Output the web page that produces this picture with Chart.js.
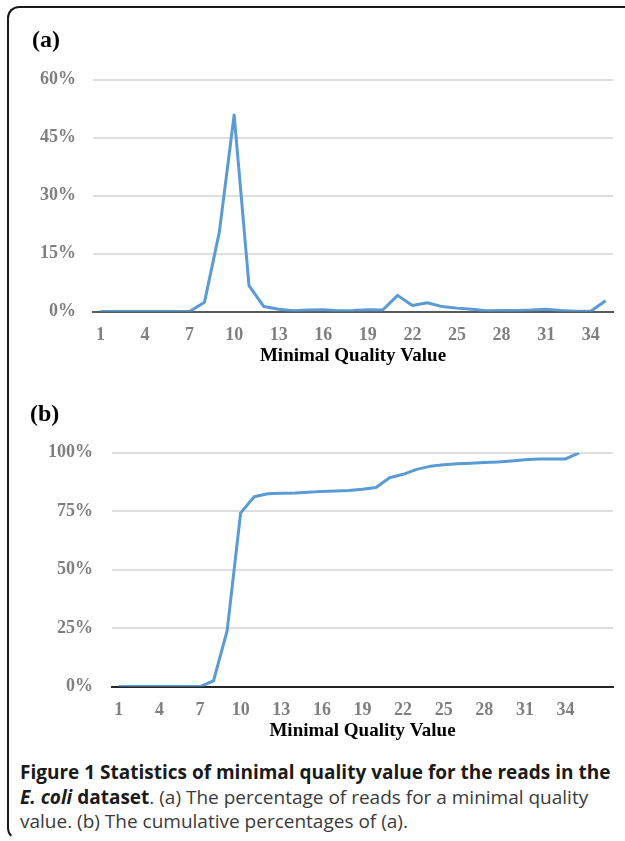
<!DOCTYPE html>
<html lang="en">
<head>
  <meta charset="UTF-8" />
  <title>Minimal quality value</title>
  <script src="https://cdn.jsdelivr.net/npm/chart.js"></script>
  <style>
    body, html { margin: 0; padding: 0; background: #fff; }
    #page { position: relative; width: 625px; height: 841px; overflow: hidden; }
    #frame { position: absolute; left: 7px; top: 6px; width: 700px; height: 830px;
             border-left: 2px solid #1a1a1a; border-top: 2px solid #1a1a1a;
             border-bottom: 2px solid transparent;
             border-top-left-radius: 12px; border-bottom-left-radius: 12px; }
    #wrapA { position: absolute; left: 0; top: 0; width: 625px; height: 380px; }
    #wrapB { position: absolute; left: 0; top: 380px; width: 625px; height: 370px; }
    #caption { position: absolute; left: 20px; top: 760px; width: 605px; white-space: nowrap;
               font-family: "Open Sans", sans-serif; font-size: 19px; line-height: 24.5px; color: #3a3a3a; }
    #caption b { color: #1a1a1a; }
  </style>
</head>
<body>
  <div id="page">
    <div id="frame"></div>
    <div id="wrapA"><canvas id="chartA"></canvas></div>
    <div id="wrapB"><canvas id="chartB"></canvas></div>
    <div id="caption"><b>Figure 1 Statistics of minimal quality value for the reads in the</b><br><b><i>E. coli</i> dataset</b>. (a) The percentage of reads for a minimal quality<br>value. (b) The cumulative percentages of (a).</div>
  </div>

  <script>
    // x categories: minimal quality value
    const qualityA = ['1','2','3','4','5','6','7','8','9','10','11','12','13','14','15','16','17','18',
      '19','20','21','22','23','24','25','26','27','28','29','30','31','32','33','34','35'];
    const qualityB = qualityA.concat(['', '']);

    // (a) percentage of reads per minimal quality value
    const percentA = [0, 0, 0, 0, 0, 0, 0, 2.4, 20.5, 50.9, 6.7, 1.3, 0.6, 0.2, 0.4, 0.5, 0.2, 0.3,
      0.5, 0.4, 4.2, 1.6, 2.3, 1.3, 0.9, 0.6, 0.2, 0.3, 0.3, 0.4, 0.6, 0.3, 0.1, 0.1, 2.8];

    // (b) cumulative percentage
    const percentB = [0, 0, 0, 0, 0, 0, 0, 2.5, 23.8, 74.3, 81.2, 82.5, 82.7, 82.8, 83.1, 83.5, 83.7, 83.9,
      84.4, 85.2, 89.3, 90.8, 92.9, 94.2, 94.9, 95.3, 95.5, 95.8, 96.1, 96.5, 97.0, 97.3, 97.4, 97.4, 100];

    const ticksA = [0, 15, 30, 45, 60];
    const ticksB = [0, 25, 50, 75, 100];

    const serif = '"Liberation Serif", "Times New Roman", serif';
    const lineColor = '#5b9bd5';

    function makeChart(id, cfg) {
      const ctx = document.getElementById(id).getContext('2d');
      return new Chart(ctx, {
        type: 'line',
        data: {
          labels: cfg.labels,
          datasets: [{
            data: cfg.values,
            borderColor: lineColor,
            borderWidth: 3,
            borderJoinStyle: 'round',
            pointRadius: 0,
            tension: 0,
            fill: false
          }]
        },
        options: {
          responsive: true,
          maintainAspectRatio: false,
          animation: false,
          layout: { padding: { left: cfg.left, right: 12, top: 0, bottom: 0 } },
          plugins: {
            legend: { display: false },
            tooltip: { enabled: false },
            title: {
              display: true,
              text: cfg.panel,
              align: 'start',
              color: '#000',
              font: { family: serif, size: 24, weight: 'bold' },
              padding: cfg.titlePad
            }
          },
          scales: {
            x: {
              offset: true,
              grid: { display: false, drawTicks: false },
              border: { display: true, color: cfg.baseColor, width: 2 },
              ticks: {
                autoSkip: false,
                maxRotation: 0,
                padding: 13,
                color: '#7f7f7f',
                font: { family: serif, size: 18, weight: 'bold' },
                callback: function(v, i) { return i % 3 === 0 ? cfg.labels[i] : ''; }
              },
              title: {
                display: true,
                text: 'Minimal Quality Value',
                color: '#000',
                font: { family: serif, size: 19, weight: 'bold' },
                padding: cfg.axisTitlePad
              }
            },
            y: {
              min: cfg.yTicks[0],
              max: cfg.yTicks[cfg.yTicks.length - 1],
              afterFit: function(scale) { scale.width = cfg.yWidth; },
              afterBuildTicks: function(scale) { scale.ticks = cfg.yTicks.map(v => ({ value: v })); },
              grid: { color: '#dedede', lineWidth: 2, drawTicks: false },
              border: { display: false },
              ticks: {
                padding: cfg.yPad,
                color: '#7f7f7f',
                font: { family: serif, size: 18, weight: 'bold' },
                callback: v => v + '%'
              }
            }
          }
        }
      });
    }

    makeChart('chartA', {
      labels: qualityA, values: percentA, yTicks: ticksA, panel: '(a)',
      left: 32, yWidth: 61, yPad: 17, baseColor: '#595959',
      titlePad: { top: 26, bottom: 25 }, axisTitlePad: { top: -14.5, bottom: 12.5 }
    });
    makeChart('chartB', {
      labels: qualityB, values: percentB, yTicks: ticksB, panel: '(b)',
      left: 30, yWidth: 82, yPad: 19, baseColor: '#262626',
      titlePad: { top: 20, bottom: 24 }, axisTitlePad: { top: -15, bottom: 8 }
    });
  </script>
</body>
</html>
